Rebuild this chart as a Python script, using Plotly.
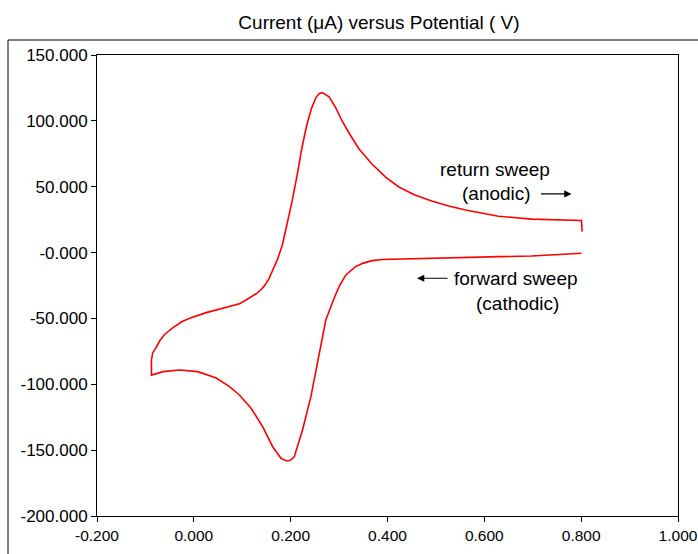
import plotly.graph_objects as go

# Forward (cathodic) sweep: from +0.80 V down to the switching potential
fwd_E = [0.8006, 0.750, 0.698, 0.630, 0.561, 0.490, 0.4235, 0.390, 0.3685, 0.350,
         0.334, 0.314, 0.300, 0.2897, 0.2726, 0.2588, 0.2418, 0.2245, 0.2074, 0.200,
         0.1936, 0.187, 0.180, 0.1628, 0.1422, 0.1183, 0.0942, 0.0737, 0.0463, 0.0084,
         -0.0292, -0.0636, -0.0875]
fwd_I = [-0.5, -1.5, -2.6, -3.1, -3.6, -4.1, -4.6, -5.3, -6.1, -8.0,
         -10.7, -17.0, -25.9, -34.7, -51.2, -76.5, -109.4, -134.7, -155.0, -157.6,
         -158.2, -157.5, -156.2, -147.4, -132.2, -118.2, -108.1, -101.8, -95.2, -90.4,
         -89.1, -90.4, -92.5]

# Return (anodic) sweep: from the switching potential back to +0.80 V
ret_E = [-0.0875, -0.0875, -0.085, -0.077, -0.070, -0.060, -0.043, -0.025, -0.0086, 0.0257,
         0.0599, 0.077, 0.0942, 0.108, 0.1216, 0.1286, 0.137, 0.1457, 0.155, 0.163, 0.173,
         0.183, 0.193, 0.203, 0.213, 0.223, 0.233, 0.243, 0.252, 0.259, 0.2656,
         0.2794, 0.2932, 0.3062, 0.3206, 0.3412, 0.3679, 0.3961, 0.4235, 0.4564, 0.4914,
         0.5263, 0.5613, 0.6292, 0.6971, 0.7527, 0.8006, 0.802]
ret_I = [-93.0, -81.5, -76.2, -71.5, -66.8, -62.0, -57.0, -52.5, -49.9, -45.6,
         -42.3, -40.8, -38.8, -36.0, -33.0, -31.3, -28.8, -25.3, -20.0, -13.5, -5.0,
         6.0, 22.0, 39.0, 58.0, 79.0, 96.5, 109.5, 117.5, 120.8, 121.4,
         118.2, 109.8, 99.9, 90.8, 78.6, 67.2, 57.3, 49.8, 43.7, 39.2,
         35.4, 32.3, 27.6, 25.4, 24.7, 24.3, 15.9]

x_ticks = [-0.2, 0.0, 0.2, 0.4, 0.6, 0.8, 1.0]
x_ticktext = ["-0.200", "0.000", "0.200", "0.400", "0.600", "0.800", "1.000"]
y_ticks = [-200, -150, -100, -50, 0, 50, 100, 150]
y_ticktext = ["-200.000", "-150.000", "-100.000", "-50.000", "-0.000", "50.000", "100.000", "150.000"]

E = fwd_E + ret_E
I = fwd_I + ret_I

FONT = "Liberation Sans, Arial, sans-serif"

fig = go.Figure()
fig.add_trace(go.Scatter(x=E, y=I, mode="lines",
                         line=dict(color="#ff0000", width=1.6),
                         showlegend=False, hoverinfo="skip"))

W, H = 698, 554
PL, PR, PT, PB = 97, 678, 55, 516      # plot area in page pixels
L, R, T, B = PL, W - PR, PT, H - PB
pw, ph = W - L - R, H - T - B

def px(xpage):
    return (xpage - L) / pw

def py(ypage):
    return (H - B - ypage) / ph

axis_common = dict(showline=True, linecolor="black", linewidth=1, mirror=True,
                   ticks="outside", ticklen=5, tickcolor="black", tickwidth=1,
                   showgrid=False, zeroline=False, ticklabeloverflow="allow",
                   automargin=False)

fig.update_layout(
    width=W, height=H, autosize=False,
    margin=dict(l=L, r=R, t=T, b=B, autoexpand=False),
    paper_bgcolor="white", plot_bgcolor="white",
    font=dict(family=FONT, size=16, color="black"),
    title=dict(text="Current (μA) versus Potential ( V)",
               x=379 / W, xanchor="center", y=1 - 22 / H, yanchor="middle",
               font=dict(family=FONT, size=19, color="black")),
    xaxis=dict(range=[-0.2, 1.0], tickvals=x_ticks, ticktext=x_ticktext,
               tickfont=dict(family=FONT, size=15.5, color="black"), **axis_common),
    yaxis=dict(range=[-200, 150], tickvals=y_ticks, ticktext=y_ticktext,
               tickfont=dict(family=FONT, size=17, color="black"), **axis_common),
    shapes=[
        # outer frame: top and left edges (right/bottom fall outside the page)
        dict(type="line", xref="paper", yref="paper",
             x0=px(8), x1=px(760), y0=py(40), y1=py(40),
             line=dict(color="black", width=1), layer="below"),
        dict(type="line", xref="paper", yref="paper",
             x0=px(8), x1=px(8), y0=py(40), y1=py(620),
             line=dict(color="black", width=1), layer="below"),
    ],
)

txt = dict(family=FONT, size=19, color="black")
fig.add_annotation(x=0.621, y=62.7, text="return sweep", showarrow=False,
                   xanchor="center", yanchor="middle", font=txt)
fig.add_annotation(x=0.625, y=44.5, text="(anodic)", showarrow=False,
                   xanchor="center", yanchor="middle", font=txt)
fig.add_annotation(x=0.666, y=-19.5, text="forward sweep", showarrow=False,
                   xanchor="center", yanchor="middle", font=txt)
fig.add_annotation(x=0.669, y=-38.5, text="(cathodic)", showarrow=False,
                   xanchor="center", yanchor="middle", font=txt)
# arrows
fig.add_annotation(x=0.780, y=44.5, ax=-32, ay=0, text="", showarrow=True,
                   arrowhead=2, arrowsize=1.2, arrowwidth=1.2, arrowcolor="black")
fig.add_annotation(x=0.461, y=-19.5, ax=32, ay=0, text="", showarrow=True,
                   arrowhead=2, arrowsize=1.2, arrowwidth=1.2, arrowcolor="black")

fig.write_html("out.html", config={"displayModeBar": False, "staticPlot": True},
               post_script="document.body.style.margin='0px';document.body.style.overflow='hidden';")
